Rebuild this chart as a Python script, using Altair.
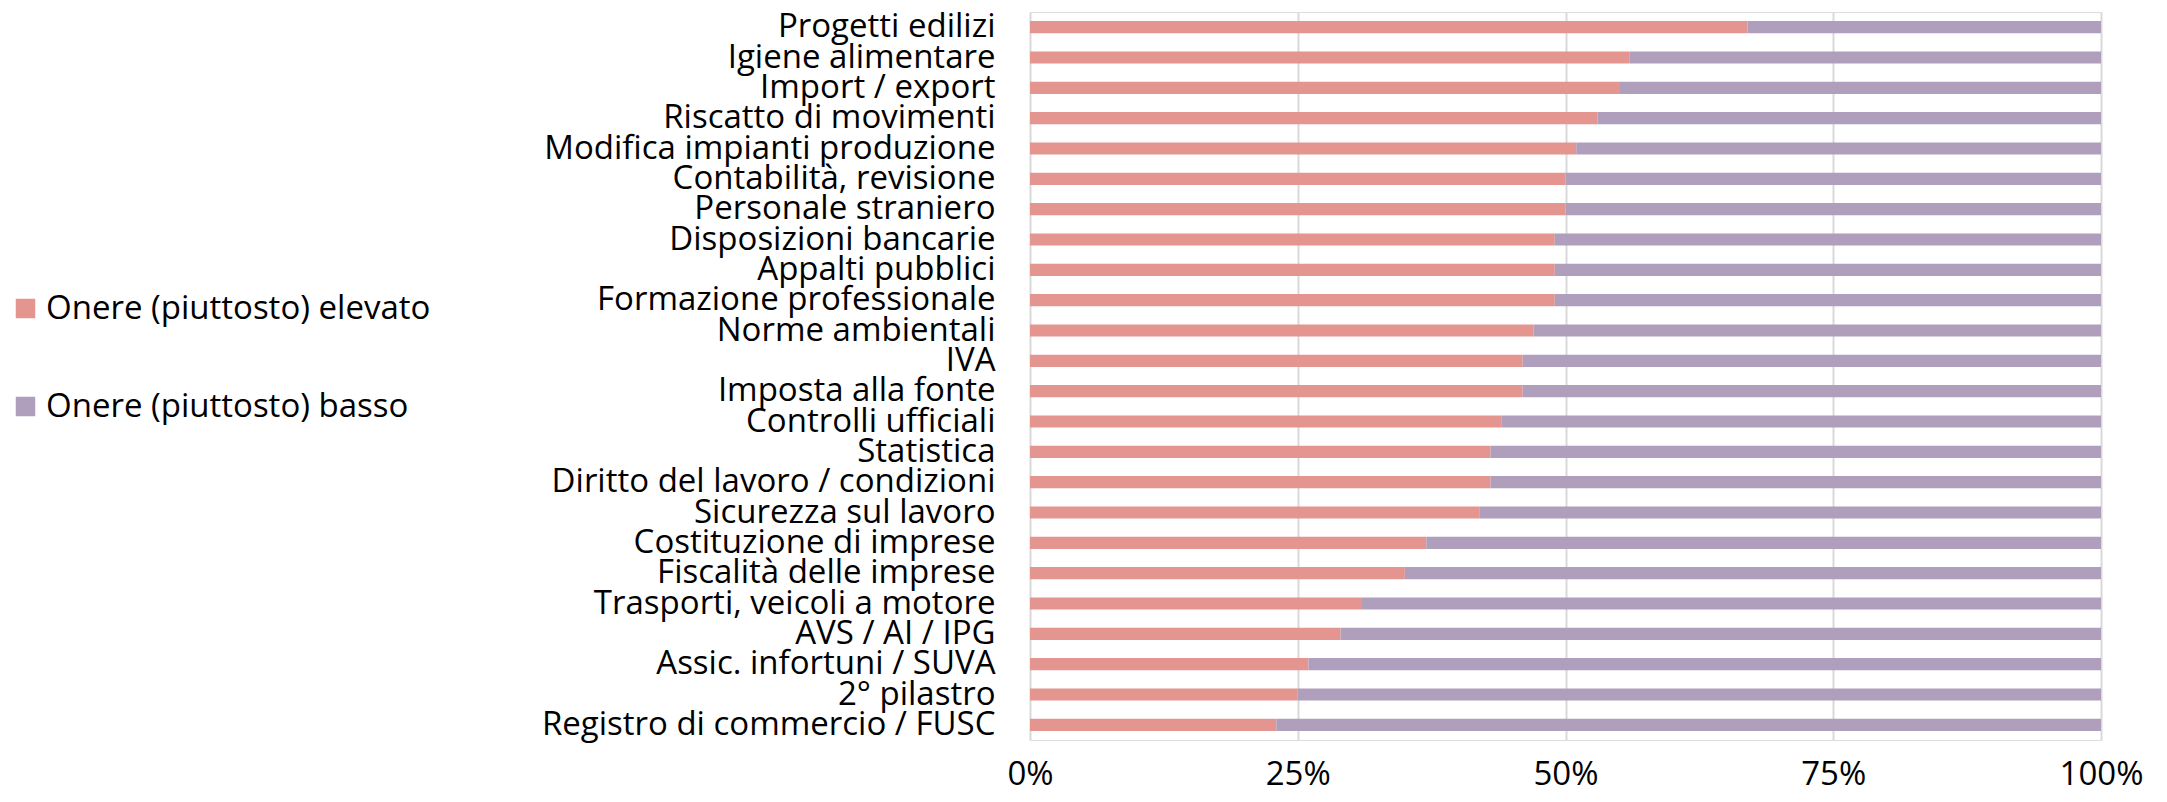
import altair as alt
import pandas as pd

categories = [
    "Progetti edilizi", "Igiene alimentare", "Import / export", "Riscatto di movimenti",
    "Modifica impianti produzione", "Contabilità, revisione", "Personale straniero",
    "Disposizioni bancarie", "Appalti pubblici", "Formazione professionale",
    "Norme ambientali", "IVA", "Imposta alla fonte", "Controlli ufficiali", "Statistica",
    "Diritto del lavoro / condizioni", "Sicurezza sul lavoro", "Costituzione di imprese",
    "Fiscalità delle imprese", "Trasporti, veicoli a motore", "AVS / AI / IPG",
    "Assic. infortuni / SUVA", "2° pilastro", "Registro di commercio / FUSC",
]
elevato = [67, 56, 55, 53, 51, 50, 50, 49, 49, 49, 47, 46, 46, 44, 43, 43, 42, 37, 35, 31, 29, 26, 25, 23]
basso = [33, 44, 45, 47, 49, 50, 50, 51, 51, 51, 53, 54, 54, 56, 57, 57, 58, 63, 65, 69, 71, 74, 75, 77]
series = ["Onere (piuttosto) elevato", "Onere (piuttosto) basso"]
colors = ["#E4958F", "#AF9FBD"]
ticks = [0, 25, 50, 75, 100]

rows = []
for c, e, b in zip(categories, elevato, basso):
    rows.append({"cat": c, "serie": series[0], "val": e, "ord": 0})
    rows.append({"cat": c, "serie": series[1], "val": b, "ord": 1})
df = pd.DataFrame(rows)

FONT = "Open Sans"

chart = alt.Chart(df).mark_bar().encode(
    y=alt.Y("cat:N", sort=categories, title=None,
            scale=alt.Scale(paddingInner=0.6, paddingOuter=0.3),
            axis=alt.Axis(domain=False, ticks=False, labelPadding=35, labelLimit=0,
                          labelFontSize=33, labelFont=FONT, labelColor="#000000",
                          grid=False)),
    x=alt.X("val:Q", stack="zero", title=None,
            scale=alt.Scale(domain=[0, 100], nice=False),
            axis=alt.Axis(values=ticks, labelExpr="datum.value + '%'", domain=False,
                          ticks=False, labelPadding=18, labelFlush=False,
                          labelFontSize=33, labelFont=FONT,
                          labelColor="#000000", grid=True, gridColor="#D9D9D9",
                          gridWidth=2)),
    color=alt.Color("serie:N", sort=series,
                    scale=alt.Scale(domain=series, range=colors),
                    legend=alt.Legend(title=None, orient="none", legendX=-1021, legendY=280,
                                      symbolType="square", symbolSize=380,
                                      symbolStrokeWidth=0, labelFontSize=33,
                                      labelFont=FONT, labelColor="#000000",
                                      labelOffset=4, rowPadding=64, padding=0,
                                      labelLimit=0)),
    order=alt.Order("ord:Q", sort="ascending"),
).properties(
    width=1071,
    height=728,
    autosize=alt.AutoSizeParams(type="none"),
    padding={"left": 1022, "top": 4, "right": 58, "bottom": 54},
).configure_view(stroke=None).configure(background="white")

chart.save("out.html", embed_options={"renderer": "svg", "actions": False})
